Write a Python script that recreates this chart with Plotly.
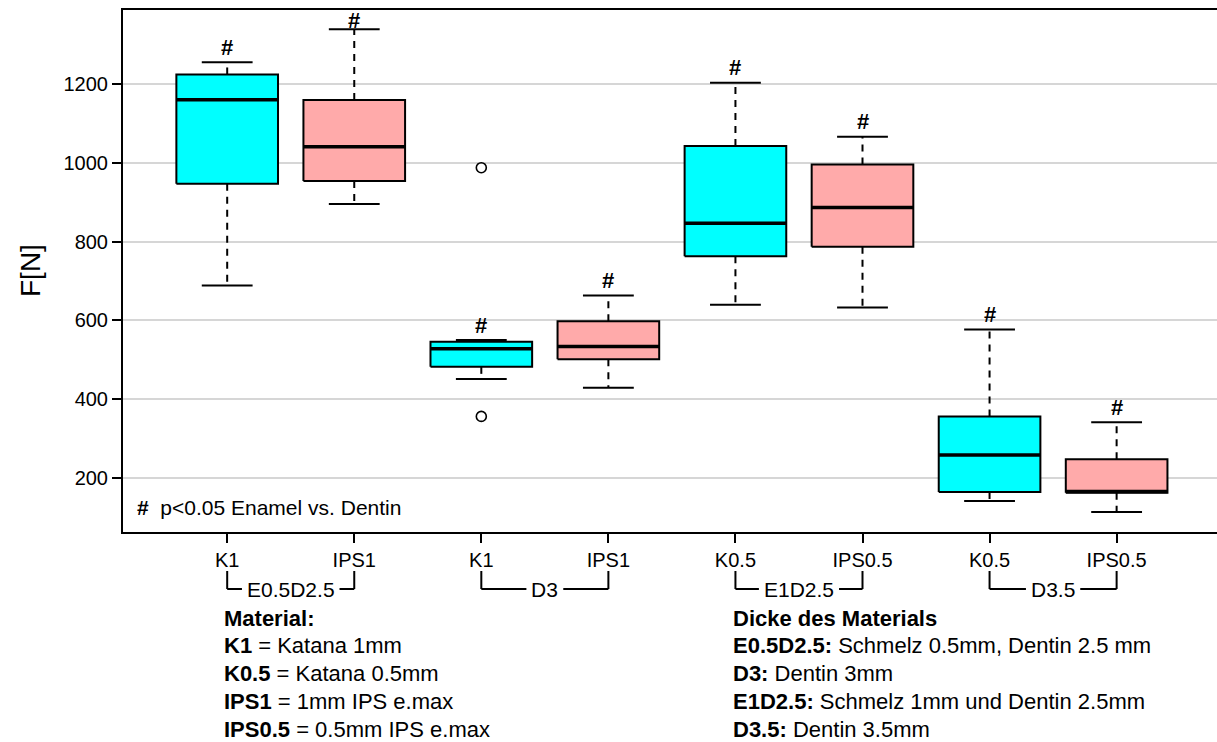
import plotly.graph_objects as go

# ---------------- data ----------------
categories = ["K1", "IPS1", "K1", "IPS1", "K0.5", "IPS0.5", "K0.5", "IPS0.5"]
groups = ["E0.5D2.5", "D3", "E1D2.5", "D3.5"]
lower_whisker = [689, 896, 451, 429, 640, 633, 141, 113]
q1 = [947, 954, 482, 501, 763, 787, 164, 162]
median = [1161, 1041, 528, 534, 847, 887, 258, 165]
q3 = [1225, 1160, 546, 598, 1043, 996, 356, 247]
upper_whisker = [1256, 1340, 550, 663, 1204, 1067, 577, 341]
outlier_box = [3, 3]
outlier_vals = [988, 356]
box_colors = ["#00FFFF", "#FFAAAA"] * 4
yticks = [200, 400, 600, 800, 1000, 1200]

left_notes = ["<b>Material:</b>",
              "<b>K1</b> = Katana 1mm",
              "<b>K0.5</b> = Katana 0.5mm",
              "<b>IPS1</b> = 1mm IPS e.max",
              "<b>IPS0.5</b> = 0.5mm IPS e.max"]
right_notes = ["<b>Dicke des Materials</b>",
               "<b>E0.5D2.5:</b> Schmelz 0.5mm, Dentin 2.5 mm",
               "<b>D3:</b> Dentin 3mm",
               "<b>E1D2.5:</b> Schmelz 1mm und Dentin 2.5mm",
               "<b>D3.5:</b> Dentin 3.5mm"]

# ---------------- layout constants ----------------
W, H = 1217, 742
ML, MR, MT, MB = 123, 0, 10, 210
XR = [0.18, 8.79]
YR = [62.3, 1388.8]
FONT = "Liberation Sans, Arial, sans-serif"
plot_w = W - ML - MR
plot_h = H - MT - MB
px_per_x = plot_w / (XR[1] - XR[0])

def ypaper(py):
    return (H - MB - py) / plot_h

def xpaper(px):
    return (px - ML) / plot_w

positions = list(range(1, len(categories) + 1))
BOXW = 0.8
CAPW = 0.4
sig_shift = [15, 9, 15, 15, 15, 15, 15, 15]   # pixel offset of '#' above the upper cap

fig = go.Figure()

for i, p in enumerate(positions):
    # whiskers (dashed)
    fig.add_trace(go.Scatter(
        x=[p, p, None, p, p], y=[q3[i], upper_whisker[i], None, q1[i], lower_whisker[i]],
        mode="lines", line=dict(color="black", width=2, dash="7px,6px"),
        hoverinfo="skip", showlegend=False))
    # caps
    fig.add_trace(go.Scatter(
        x=[p - CAPW / 2, p + CAPW / 2, None, p - CAPW / 2, p + CAPW / 2],
        y=[upper_whisker[i], upper_whisker[i], None, lower_whisker[i], lower_whisker[i]],
        mode="lines", line=dict(color="black", width=2),
        hoverinfo="skip", showlegend=False))
    # box
    fig.add_trace(go.Scatter(
        x=[p - BOXW / 2, p + BOXW / 2, p + BOXW / 2, p - BOXW / 2, p - BOXW / 2],
        y=[q1[i], q1[i], q3[i], q3[i], q1[i]],
        mode="lines", fill="toself", fillcolor=box_colors[i],
        line=dict(color="black", width=2),
        hoverinfo="skip", showlegend=False))
    # median
    fig.add_trace(go.Scatter(
        x=[p - BOXW / 2, p + BOXW / 2], y=[median[i], median[i]],
        mode="lines", line=dict(color="black", width=3.5),
        hoverinfo="skip", showlegend=False))
    # significance marker
    fig.add_annotation(x=p, y=upper_whisker[i], xref="x", yref="y",
                       text="<b>#</b>", showarrow=False, yanchor="middle", yshift=sig_shift[i],
                       font=dict(family=FONT, size=22, color="black"))

# outliers
fig.add_trace(go.Scatter(
    x=outlier_box, y=outlier_vals, mode="markers",
    marker=dict(symbol="circle-open", size=10, color="black", line=dict(width=1.6)),
    hoverinfo="skip", showlegend=False))

# note inside plot
fig.add_annotation(x=xpaper(135), y=ypaper(507), xref="paper", yref="paper",
                   text="<b>#</b>  p<0.05 Enamel vs. Dentin", showarrow=False,
                   xanchor="left", yanchor="middle",
                   font=dict(family=FONT, size=21, color="black"))

# y axis title
fig.add_annotation(x=xpaper(30), y=0.5, xref="paper", yref="paper", text="F[N]",
                   textangle=-90, showarrow=False, xanchor="center", yanchor="middle",
                   font=dict(family=FONT, size=28, color="black"))

# group brackets below the axis
GFS = 21
br_top, br_bot = 571, 589
gap_px = 5
text_em = {"E0.5D2.5": 4.17, "D3": 1.28, "E1D2.5": 3.34, "D3.5": 2.11}
for g, name in enumerate(groups):
    a, b = positions[2 * g], positions[2 * g + 1]
    mid = (a + b) / 2
    half = (text_em[name] * GFS / 2 + gap_px) / px_per_x
    fig.add_annotation(x=mid, y=ypaper(br_bot), xref="x", yref="paper", text=name,
                       showarrow=False, xanchor="center", yanchor="middle",
                       font=dict(family=FONT, size=GFS, color="black"))
    for (x0, x1) in [(a, mid - half), (mid + half, b)]:
        fig.add_shape(type="line", xref="x", yref="paper", x0=x0, x1=x1,
                      y0=ypaper(br_bot), y1=ypaper(br_bot),
                      line=dict(color="black", width=2))
    for xx in (a, b):
        fig.add_shape(type="line", xref="x", yref="paper", x0=xx, x1=xx,
                      y0=ypaper(br_top), y1=ypaper(br_bot),
                      line=dict(color="black", width=2))

# explanatory notes
line_y0, line_dy = 618, 27.8
for col_x, notes in [(223, left_notes), (732, right_notes)]:
    for k, t in enumerate(notes):
        fig.add_annotation(x=xpaper(col_x), y=ypaper(line_y0 + k * line_dy),
                           xref="paper", yref="paper", text=t, showarrow=False,
                           xanchor="left", yanchor="middle", borderpad=0,
                           font=dict(family=FONT, size=22, color="black"))

fig.update_layout(
    width=W, height=H,
    margin=dict(l=ML, r=MR, t=MT, b=MB, pad=0),
    paper_bgcolor="white", plot_bgcolor="white",
    font=dict(family=FONT, size=20, color="black"),
    xaxis=dict(range=XR, tickmode="array", tickvals=positions, ticktext=categories,
               showgrid=False, zeroline=False, showline=True, linecolor="black", linewidth=2,
               mirror=True, ticks="outside", ticklen=9, tickwidth=2, tickcolor="black",
               tickfont=dict(family=FONT, size=20, color="black")),
    yaxis=dict(range=YR, tickmode="array", tickvals=yticks,
               showgrid=True, gridcolor="#d6d6d6", gridwidth=2, zeroline=False,
               showline=True, linecolor="black", linewidth=2,
               ticks="outside", ticklen=9, tickwidth=2, tickcolor="black",
               tickfont=dict(family=FONT, size=20, color="black")),
)

fig.write_html("out.html")
